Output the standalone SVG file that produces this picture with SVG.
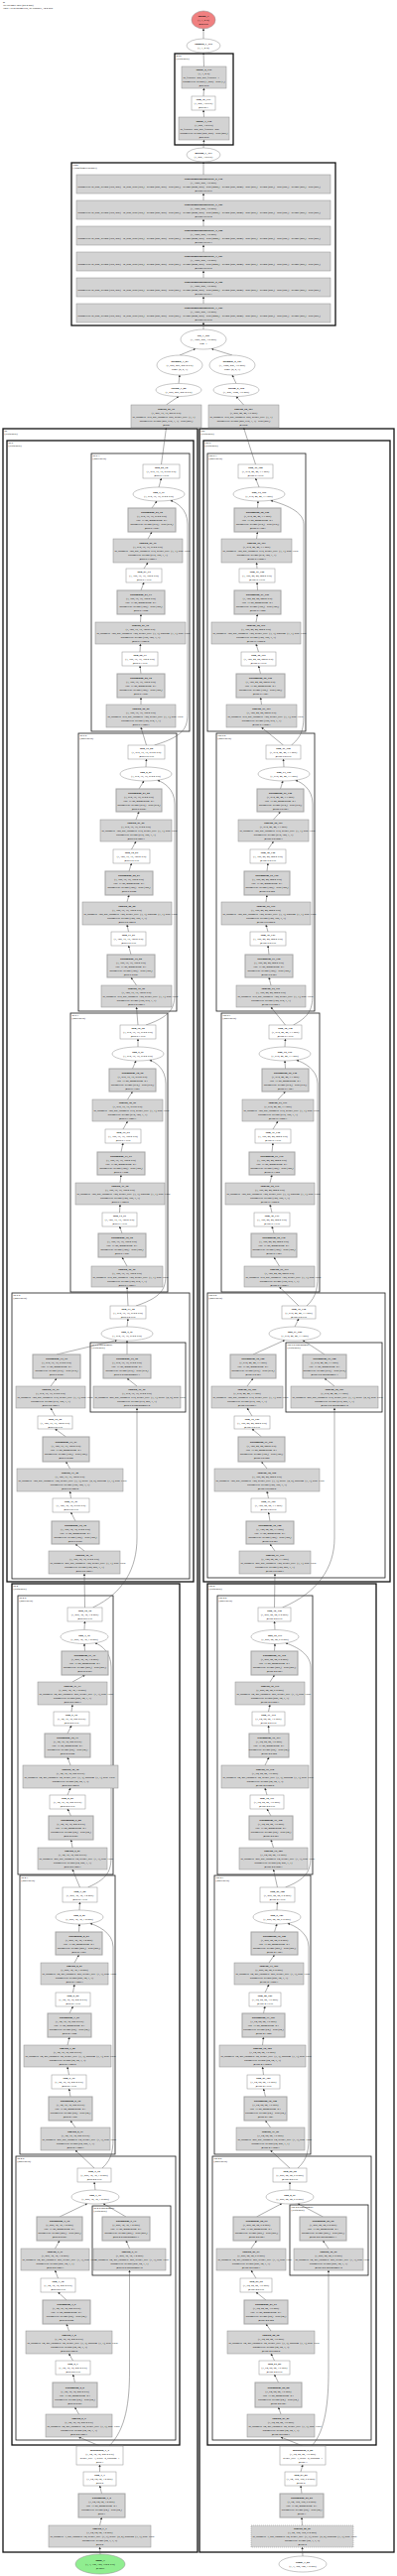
<svg xmlns="http://www.w3.org/2000/svg" width="400" height="2596" viewBox="0 0 400 2596">
<defs>
<marker id="a" viewBox="0 0 10 10" refX="9" refY="5" markerWidth="2.4" markerHeight="2.4" markerUnits="userSpaceOnUse" orient="auto"><path d="M0,0L10,5L0,10z" fill="#333"/></marker>
<style>
text{font-family:"Liberation Serif","Times New Roman",serif;font-size:2.8px;text-anchor:middle;fill:#000}
.b{font-weight:bold}
.s{text-anchor:start}
.cl{text-anchor:start;font-size:2.7px}
.m{fill:#d3d3d3;stroke:#8f8f8f;stroke-width:.5}
.bn{fill:#d3d3d3;stroke:#a3a3a3;stroke-width:1}
.w{fill:#fff;stroke:#8f8f8f;stroke-width:.5}
.c{fill:none;stroke:#1a1a1a;stroke-width:.8}
.c2{fill:none;stroke:#111;stroke-width:1.3}
#edges path{fill:none;stroke:#4d4d4d;stroke-width:.45;marker-end:url(#a)}
</style>
</defs>
<rect width="400" height="2596" fill="#fff"/>
<g id="title"><text class="cl b" x="3" y="3">ft</text><text class="cl" x="3" y="6">1st category total (25.4 MB)</text><text class="cl" x="3" y="9">Total 1.0 M parameters, all trainable, 34.4 MB</text></g>

<g id="clusters">
<rect class="c2" x="176" y="54" width="59" height="92"/><text class="cl" x="177.5" y="57.2">head</text><text class="cl" x="177.5" y="60.2">(Sequential)</text>
<rect class="c2" x="72" y="164" width="266" height="164"/><text class="cl" x="73.5" y="167.2">trans</text><text class="cl" x="73.5" y="170.2">(TransformerEncoder)</text>
<rect class="c2" x="3" y="432" width="196" height="2140"/><text class="cl" x="4.5" y="435.2">bb</text><text class="cl" x="4.5" y="438.2">(Sequential)</text>
<rect class="c2" x="7" y="444" width="188" height="1150"/><text class="cl" x="8.5" y="447.2">bb.5</text><text class="cl" x="8.5" y="450.2">(Sequential)</text>
<rect class="c" x="92" y="457" width="99" height="280"/><text class="cl" x="93.5" y="460.2">bb.5.3</text><text class="cl" x="93.5" y="463.2">(Bottleneck)</text>
<rect class="c" x="79" y="739" width="99" height="280"/><text class="cl" x="80.5" y="742.2">bb.5.2</text><text class="cl" x="80.5" y="745.2">(Bottleneck)</text>
<rect class="c" x="71" y="1021" width="98" height="281"/><text class="cl" x="72.5" y="1024.2">bb.5.1</text><text class="cl" x="72.5" y="1027.2">(Bottleneck)</text>
<rect class="c" x="12" y="1303" width="179" height="288"/><text class="cl" x="13.5" y="1306.2">bb.5.0</text><text class="cl" x="13.5" y="1309.2">(Bottleneck)</text>
<rect class="c" x="91" y="1353" width="96" height="70"/><text class="cl" x="92.5" y="1356.2">bb.5.0.downsample</text><text class="cl" x="92.5" y="1359.2">(Sequential)</text>
<rect class="c2" x="12" y="1596" width="169" height="868"/><text class="cl" x="13.5" y="1599.2">bb.4</text><text class="cl" x="13.5" y="1602.2">(Sequential)</text>
<rect class="c" x="18" y="1608" width="96" height="281"/><text class="cl" x="19.5" y="1611.2">bb.4.2</text><text class="cl" x="19.5" y="1614.2">(Bottleneck)</text>
<rect class="c" x="20" y="1890" width="96" height="281"/><text class="cl" x="21.5" y="1893.2">bb.4.1</text><text class="cl" x="21.5" y="1896.2">(Bottleneck)</text>
<rect class="c" x="16" y="2173" width="161" height="286"/><text class="cl" x="17.5" y="2176.2">bb.4.0</text><text class="cl" x="17.5" y="2179.2">(Bottleneck)</text>
<rect class="c" x="93" y="2223" width="79" height="70"/><text class="cl" x="94.5" y="2226.2">bb.4.0.downsample</text><text class="cl" x="94.5" y="2229.2">(Sequential)</text>
<rect class="c2" x="201" y="432" width="196" height="2140"/><text class="cl" x="202.5" y="435.2">cbb</text><text class="cl" x="202.5" y="438.2">(Sequential)</text>
<rect class="c2" x="205" y="444" width="188" height="1150"/><text class="cl" x="206.5" y="447.2">cbb.5</text><text class="cl" x="206.5" y="450.2">(Sequential)</text>
<rect class="c" x="209" y="457" width="99" height="280"/><text class="cl" x="210.5" y="460.2">cbb.5.3</text><text class="cl" x="210.5" y="463.2">(Bottleneck)</text>
<rect class="c" x="218" y="739" width="99" height="280"/><text class="cl" x="219.5" y="742.2">cbb.5.2</text><text class="cl" x="219.5" y="745.2">(Bottleneck)</text>
<rect class="c" x="223" y="1021" width="99" height="281"/><text class="cl" x="224.5" y="1024.2">cbb.5.1</text><text class="cl" x="224.5" y="1027.2">(Bottleneck)</text>
<rect class="c" x="209" y="1303" width="179" height="287"/><text class="cl" x="210.5" y="1306.2">cbb.5.0</text><text class="cl" x="210.5" y="1309.2">(Bottleneck)</text>
<rect class="c" x="288" y="1353" width="97" height="70"/><text class="cl" x="289.5" y="1356.2">cbb.5.0.downsample</text><text class="cl" x="289.5" y="1359.2">(Sequential)</text>
<rect class="c2" x="209" y="1596" width="170" height="868"/><text class="cl" x="210.5" y="1599.2">cbb.4</text><text class="cl" x="210.5" y="1602.2">(Sequential)</text>
<rect class="c" x="219" y="1608" width="96" height="281"/><text class="cl" x="220.5" y="1611.2">cbb.4.2</text><text class="cl" x="220.5" y="1614.2">(Bottleneck)</text>
<rect class="c" x="216" y="1890" width="97" height="281"/><text class="cl" x="217.5" y="1893.2">cbb.4.1</text><text class="cl" x="217.5" y="1896.2">(Bottleneck)</text>
<rect class="c" x="214" y="2173" width="160" height="286"/><text class="cl" x="215.5" y="2176.2">cbb.4.0</text><text class="cl" x="215.5" y="2179.2">(Bottleneck)</text>
<rect class="c" x="292" y="2222" width="79" height="71"/><text class="cl" x="293.5" y="2225.2">cbb.4.0.downsample</text><text class="cl" x="293.5" y="2228.2">(Sequential)</text>
</g>

<g id="edges">
<path d="M205,39L205,29"/><path d="M205.5,67L205,53"/><path d="M205,97L205.5,89"/><path d="M205.5,118L205,111"/><path d="M205,149L205.5,141"/><path d="M205,176L205,163"/>
<path d="M205,202L205,195"/><path d="M205,228L205,221"/><path d="M205,254L205,247"/><path d="M205,280L205,273"/><path d="M205,306L205,299"/><path d="M205,332L205,325"/>
<path d="M181,358L197,351.4"/><path d="M234,358L213,351.4"/><path d="M180,386.5L181,378"/><path d="M238,386.5L234,378"/><path d="M167.5,408L180,399.5"/><path d="M245.5,408L238,399.5"/><path d="M162.5,468L167.5,431"/><path d="M257.5,468L245.5,431"/>
<path d="M160,491L162.5,482"/><path d="M153,512L158,505"/><path d="M149,543L153,536"/><path d="M145,573L149,567"/><path d="M142,595L145,587"/><path d="M141.5,627L142,619"/><path d="M141,657L141.5,649"/><path d="M142,679L141,671"/><path d="M142,710L142,703"/><path d="M147.5,751L142,733"/>
<path d="M155.5,751C189,741 189,731 189,716L189,528C189,513 177.7,506.3 171.7,504.3"/>
<path d="M147,773L147.5,765"/><path d="M140,795L145,787"/><path d="M137,826L140,818"/><path d="M132.5,856L137,848"/><path d="M130,878L132.5,870"/><path d="M128,909L130,902"/><path d="M129.5,939L128,932"/><path d="M132,962L129.5,953"/><path d="M137.5,993L132,985"/><path d="M139,1033L137.5,1015"/>
<path d="M147,1033C176,1023 176,1013 176,998L176,810C176,795 164.7,788.3 158.7,786.3"/>
<path d="M139,1055L139,1047"/><path d="M133.5,1077L137,1069"/><path d="M128.5,1108L133.5,1100"/><path d="M124,1138L128.5,1130"/><path d="M122,1161L124,1152"/><path d="M121,1192L122,1184"/><path d="M120.5,1222L121,1214"/><path d="M123,1243L120.5,1236"/><path d="M128,1276L123,1267"/><path d="M129,1316L128,1297"/>
<path d="M137,1316C167,1306 167,1296 167,1281L167,1092C167,1077 156.7,1070.3 150.7,1068.3"/>
<path d="M128,1337L129,1329"/><path d="M57,1365L118,1350.5"/><path d="M128,1365L128,1351"/><path d="M138,1397L128,1389"/><path d="M51,1397L57,1389"/><path d="M55.5,1427L51,1419"/><path d="M66.5,1448L55.5,1440"/><path d="M70.5,1480L66.5,1473"/><path d="M71.5,1510L70.5,1503"/><path d="M76,1533L71.5,1524"/><path d="M85,1563L76,1556"/><path d="M85.5,1620L85,1586"/>
<path d="M93.5,1620C125,1605 138,1580 138,1550L138,1419"/>
<path d="M85,1642.5L85.5,1634"/><path d="M85.5,1664L85,1656.5"/><path d="M73,1695L85.5,1688"/><path d="M72,1725L73,1718"/><path d="M68,1747L72,1739"/><path d="M71,1779L68,1771"/><path d="M68,1809L71,1802"/><path d="M71.5,1830L68,1823"/><path d="M73,1862L71.5,1854"/><path d="M80.5,1902L73,1884"/>
<path d="M88.5,1902C112,1892 112,1882 112,1867L112,1680C112,1665 101.8,1657.8 95.8,1655.8"/>
<path d="M80,1925L80.5,1917"/><path d="M79.5,1947L80,1939"/><path d="M75,1978L79.5,1970"/><path d="M73.5,2008L75,2000"/><path d="M70,2029L73.5,2022"/><path d="M68,2061L70,2053"/><path d="M69.5,2091L68,2083"/><path d="M71,2113L69.5,2105"/><path d="M76,2144L71,2137"/><path d="M95,2185L76,2167"/>
<path d="M103,2185C114,2175 114,2165 114,2150L114,1962C114,1947 96.8,1940.3 90.8,1938.3"/>
<path d="M96,2207L95,2199"/><path d="M60,2234L88,2220.6"/><path d="M127,2234L104,2220.6"/><path d="M130.5,2266L127,2258"/><path d="M55.5,2266L60,2258"/><path d="M58.5,2296L55.5,2288"/><path d="M67,2318L58.5,2310"/><path d="M69.5,2349L67,2342"/><path d="M73.5,2379L69.5,2372"/><path d="M75.5,2401L73.5,2393"/><path d="M79.5,2433L75.5,2426"/><path d="M100.5,2465L79.5,2456"/>
<path d="M110,2465C127,2448 130.5,2420 130.5,2390L130.5,2288"/>
<path d="M100.5,2491L100.5,2484"/><path d="M102.5,2513L100.5,2505"/><path d="M100.5,2545L102.5,2537"/><path d="M101,2574L100.5,2567"/>
<path d="M261,491L257.5,482"/><path d="M259.5,512L260,505"/><path d="M258.5,543L259.5,536"/><path d="M259,573L258.5,567"/><path d="M259.5,595L259,587"/><path d="M258,627L259.5,619"/><path d="M260.5,657L258,649"/><path d="M262.5,679L260.5,671"/><path d="M263.5,710L262.5,703"/><path d="M285.5,751L263.5,733"/>
<path d="M293.5,751C306,741 306,731 306,716L306,528C306,513 278.7,506.3 272.7,504.3"/>
<path d="M286,773L285.5,765"/><path d="M282.5,795L285,787"/><path d="M275.5,826L282.5,818"/><path d="M270,856L275.5,848"/><path d="M269,878L270,870"/><path d="M268,909L269,902"/><path d="M270,939L268,932"/><path d="M271,962L270,953"/><path d="M273,993L271,985"/><path d="M287.5,1033L273,1015"/>
<path d="M295.5,1033C315,1023 315,1013 315,998L315,810C315,795 303.7,788.3 297.7,786.3"/>
<path d="M287,1055L287.5,1047"/><path d="M287.5,1077L287,1069"/><path d="M280,1108L287.5,1100"/><path d="M275,1138L280,1130"/><path d="M274,1161L275,1152"/><path d="M272,1192L274,1184"/><path d="M274,1222L272,1214"/><path d="M276,1243L274,1236"/><path d="M281.5,1276L276,1267"/><path d="M301,1316L281.5,1297"/>
<path d="M309,1316C320,1306 320,1296 320,1281L320,1092C320,1077 304.7,1070.3 298.7,1068.3"/>
<path d="M297,1337L301,1329"/><path d="M255,1365L287,1350.5"/><path d="M327,1365L305,1350.5"/><path d="M337,1397L327,1389"/><path d="M249,1397L255,1389"/><path d="M254,1427L249,1419"/><path d="M263.5,1448L254,1440"/><path d="M269,1480L263.5,1473"/><path d="M270.5,1510L269,1503"/><path d="M272,1533L270.5,1524"/><path d="M277,1563L272,1556"/><path d="M276.5,1620L277,1586"/>
<path d="M284.5,1620C320,1605 337,1580 337,1550L337,1419"/>
<path d="M277,1642.5L276.5,1634"/><path d="M276.5,1664L277,1656.5"/><path d="M272,1695L276.5,1688"/><path d="M270.5,1725L272,1718"/><path d="M271,1747L270.5,1739"/><path d="M267,1779L271,1771"/><path d="M269,1809L267,1802"/><path d="M273,1830L269,1823"/><path d="M275.5,1862L273,1854"/><path d="M279.5,1902L275.5,1884"/>
<path d="M287.5,1902C313,1892 313,1882 313,1867L313,1680C313,1665 293.8,1657.8 287.8,1655.8"/>
<path d="M279,1925L279.5,1917"/><path d="M276.5,1947L279,1939"/><path d="M271,1978L276.5,1970"/><path d="M267,2008L271,2000"/><path d="M265.5,2029L267,2022"/><path d="M264.5,2061L265.5,2053"/><path d="M265.5,2091L264.5,2083"/><path d="M267.5,2113L265.5,2105"/><path d="M272.5,2144L267.5,2137"/><path d="M292,2185L272.5,2167"/>
<path d="M300,2185C311,2175 311,2165 311,2150L311,1962C311,1947 295.8,1940.3 289.8,1938.3"/>
<path d="M292,2207L292,2199"/><path d="M258.5,2234L284,2220.6"/><path d="M325.5,2234L300,2220.6"/><path d="M331,2266L325.5,2258"/><path d="M253,2266L258.5,2258"/><path d="M258,2296L253,2288"/><path d="M268,2318L258,2310"/><path d="M273,2349L268,2342"/><path d="M276.5,2379L273,2372"/><path d="M280.5,2401L276.5,2393"/><path d="M283,2433L280.5,2426"/><path d="M305,2465L283,2456"/>
<path d="M314,2465C328,2450 331,2420 331,2390L331,2288"/>
<path d="M303,2491L305,2484"/><path d="M304,2513L303,2505"/><path d="M304.5,2545L304,2537"/><path d="M305,2576L304.5,2567"/>
</g>

<g id="output_1"><ellipse cx="205" cy="20" rx="12" ry="9" fill="#f08080" stroke="#8f8f8f" stroke-width=".5"/><text x="205" y="17.1"><tspan class="b">output_1</tspan><tspan x="205" dy="4">(1, 1, 4 B)</tspan><tspan x="205" dy="4">@output</tspan></text></g>
<g id="sigmoid_1_175"><ellipse class="w" cx="205" cy="46" rx="17" ry="7"/><text x="205" y="45.1"><tspan class="b">sigmoid_1_175</tspan><tspan x="205" dy="4">(1, 1, 4 B)</tspan></text></g>
<g id="linear_2_174"><rect class="m" x="183" y="67" width="45" height="22"/><text x="205.5" y="71"><tspan class="b">linear_2_174</tspan><tspan x="205.5" dy="4">(1, 1, 4 B)</tspan><tspan x="205.5" dy="8">parameters: weight (1, 256) · bias (1,)</tspan><tspan x="205.5" dy="4">@head.2</tspan></text><text class="s" x="184.5" y="79">in_features=256, out_features=1</text></g>
<g id="relu_45_173"><rect class="w" x="193" y="97" width="24" height="14"/><text x="205" y="101"><tspan class="b">relu_45_173</tspan><tspan x="205" dy="4">(1, 256, 1.0 KB)</tspan><tspan x="205" dy="4">@head.1</tspan></text></g>
<g id="linear_1_172"><rect class="m" x="180" y="118" width="51" height="23"/><text x="205.5" y="122.5"><tspan class="b">linear_1_172</tspan><tspan x="205.5" dy="4">(1, 256, 1.0 KB)</tspan><tspan x="205.5" dy="8">parameters: weight (256, 256) · bias (256,)</tspan><tspan x="205.5" dy="4">@head.0</tspan></text><text class="s" x="181.5" y="130.5">in_features=256, out_features=256</text></g>
<g id="getitem_1_171"><ellipse class="w" cx="205" cy="156" rx="17" ry="7"/><text x="205" y="155.1"><tspan class="b">getitem_1_171</tspan><tspan x="205" dy="4">(1, 256, 1.0 KB)</tspan></text></g>

<g id="transformerencoderlayer_6_170"><rect class="m" x="77" y="176" width="256" height="19"/><text x="205" y="180.5"><tspan class="b">transformerencoderlayer_6_170</tspan><tspan x="205" dy="4">(1, 1856, 256, 1.8 MB)</tspan><tspan x="205" dy="8">@trans.layers.5</tspan></text><text class="s" x="78.5" y="188.5">parameters: in_proj_weight (768, 256) · in_proj_bias (768,) · weight (256, 256) · bias (256,) · weight (2048, 256) · bias (2048,) · weight (256, 2048) · bias (256,) · weight (256,) · bias (256,) · weight (256,) · bias (256,)</text></g>
<g id="transformerencoderlayer_5_169"><rect class="m" x="77" y="202" width="256" height="19"/><text x="205" y="206.5"><tspan class="b">transformerencoderlayer_5_169</tspan><tspan x="205" dy="4">(1, 1856, 256, 1.8 MB)</tspan><tspan x="205" dy="8">@trans.layers.4</tspan></text><text class="s" x="78.5" y="214.5">parameters: in_proj_weight (768, 256) · in_proj_bias (768,) · weight (256, 256) · bias (256,) · weight (2048, 256) · bias (2048,) · weight (256, 2048) · bias (256,) · weight (256,) · bias (256,) · weight (256,) · bias (256,)</text></g>
<g id="transformerencoderlayer_4_168"><rect class="m" x="77" y="228" width="256" height="19"/><text x="205" y="232.5"><tspan class="b">transformerencoderlayer_4_168</tspan><tspan x="205" dy="4">(1, 1856, 256, 1.8 MB)</tspan><tspan x="205" dy="8">@trans.layers.3</tspan></text><text class="s" x="78.5" y="240.5">parameters: in_proj_weight (768, 256) · in_proj_bias (768,) · weight (256, 256) · bias (256,) · weight (2048, 256) · bias (2048,) · weight (256, 2048) · bias (256,) · weight (256,) · bias (256,) · weight (256,) · bias (256,)</text></g>
<g id="transformerencoderlayer_3_167"><rect class="m" x="77" y="254" width="256" height="19"/><text x="205" y="258.5"><tspan class="b">transformerencoderlayer_3_167</tspan><tspan x="205" dy="4">(1, 1856, 256, 1.8 MB)</tspan><tspan x="205" dy="8">@trans.layers.2</tspan></text><text class="s" x="78.5" y="266.5">parameters: in_proj_weight (768, 256) · in_proj_bias (768,) · weight (256, 256) · bias (256,) · weight (2048, 256) · bias (2048,) · weight (256, 2048) · bias (256,) · weight (256,) · bias (256,) · weight (256,) · bias (256,)</text></g>
<g id="transformerencoderlayer_2_166"><rect class="m" x="77" y="280" width="256" height="19"/><text x="205" y="284.5"><tspan class="b">transformerencoderlayer_2_166</tspan><tspan x="205" dy="4">(1, 1856, 256, 1.8 MB)</tspan><tspan x="205" dy="8">@trans.layers.1</tspan></text><text class="s" x="78.5" y="292.5">parameters: in_proj_weight (768, 256) · in_proj_bias (768,) · weight (256, 256) · bias (256,) · weight (2048, 256) · bias (2048,) · weight (256, 2048) · bias (256,) · weight (256,) · bias (256,) · weight (256,) · bias (256,)</text></g>
<g id="transformerencoderlayer_1_165"><rect class="m" x="77" y="306" width="256" height="19"/><text x="205" y="310.5"><tspan class="b">transformerencoderlayer_1_165</tspan><tspan x="205" dy="4">(1, 1856, 256, 1.8 MB)</tspan><tspan x="205" dy="8">@trans.layers.0</tspan></text><text class="s" x="78.5" y="318.5">parameters: in_proj_weight (768, 256) · in_proj_bias (768,) · weight (256, 256) · bias (256,) · weight (2048, 256) · bias (2048,) · weight (256, 2048) · bias (256,) · weight (256,) · bias (256,) · weight (256,) · bias (256,)</text></g>

<g id="cat_1_164"><ellipse class="w" cx="205" cy="342" rx="23" ry="10"/><text x="205" y="339.1"><tspan class="b">cat_1_164</tspan><tspan x="205" dy="4">(1, 1856, 256, 1.8 MB)</tspan><tspan x="205" dy="4">dim=1</tspan></text></g>
<g id="permute_1_81"><ellipse class="w" cx="181" cy="368" rx="23" ry="10"/><text x="181" y="365.1"><tspan class="b">permute_1_81</tspan><tspan x="181" dy="4">(1, 256, 256, 256.0 KB)</tspan><tspan x="181" dy="4">dims=(0, 2, 1)</tspan></text></g>
<g id="permute_2_163"><ellipse class="w" cx="234" cy="368" rx="23" ry="10"/><text x="234" y="365.1"><tspan class="b">permute_2_163</tspan><tspan x="234" dy="4">(1, 1600, 256, 1.6 MB)</tspan><tspan x="234" dy="4">dims=(0, 2, 1)</tspan></text></g>
<g id="flatten_1_80"><ellipse class="w" cx="180" cy="393" rx="23" ry="6.5"/><text x="180" y="392.1"><tspan class="b">flatten_1_80</tspan><tspan x="180" dy="4">(1, 256, 256, 256.0 KB)</tspan></text></g>
<g id="flatten_2_162"><ellipse class="w" cx="238" cy="393" rx="23" ry="6.5"/><text x="238" y="392.1"><tspan class="b">flatten_2_162</tspan><tspan x="238" dy="4">(1, 256, 1600, 1.6 MB)</tspan></text></g>
<g id="conv2d_25_79"><rect class="m" x="132" y="408" width="71" height="23"/><text x="167.5" y="412.5"><tspan class="b">conv2d_25_79</tspan><tspan x="167.5" dy="4">(1, 256, 16, 16, 256.0 KB)</tspan><tspan x="167.5" dy="8">parameters: weight (256, 512, 1, 1) · bias (256,)</tspan><tspan x="167.5" dy="4">@proj</tspan></text><text class="s" x="133.5" y="420.5">in_channels=512, out_channels=256, kernel_size=(1, 1)</text></g>
<g id="conv2d_50_161"><rect class="m" x="210" y="408" width="71" height="23"/><text x="245.5" y="412.5"><tspan class="b">conv2d_50_161</tspan><tspan x="245.5" dy="4">(1, 256, 40, 40, 1.6 MB)</tspan><tspan x="245.5" dy="8">parameters: weight (256, 512, 1, 1) · bias (256,)</tspan><tspan x="245.5" dy="4">@cproj</tspan></text><text class="s" x="211.5" y="420.5">in_channels=512, out_channels=256, kernel_size=(1, 1)</text></g>

<!-- LEFT bb.5.3 -->
<g id="relu_22_78"><rect class="w" x="144" y="468" width="37" height="14"/><text x="162.5" y="472"><tspan class="b">relu_22_78</tspan><tspan x="162.5" dy="4">(1, 512, 16, 16, 512.0 KB)</tspan><tspan x="162.5" dy="4">@bb.5.3.relu</tspan></text></g>
<g id="add_7_77"><ellipse class="w" cx="160" cy="498" rx="26" ry="7"/><text x="160" y="497.1"><tspan class="b">add_7_77</tspan><tspan x="160" dy="4">(1, 512, 16, 16, 512.0 KB)</tspan></text></g>
<g id="batchnorm_24_76"><rect class="bn" x="129" y="512" width="48" height="24"/><text x="153" y="517"><tspan class="b">batchnorm_24_76</tspan><tspan x="153" dy="4">(1, 512, 16, 16, 512.0 KB)</tspan><tspan x="153" dy="4">eps=1e-05, momentum=0.1</tspan><tspan x="153" dy="4">parameters: weight (512,) · bias (512,)</tspan><tspan x="153" dy="4">@bb.5.3.bn3</tspan></text></g>
<g id="conv2d_24_75"><rect class="m" x="114" y="543" width="70" height="24"/><text x="149" y="548"><tspan class="b">conv2d_24_75</tspan><tspan x="149" dy="4">(1, 512, 16, 16, 512.0 KB)</tspan><tspan x="149" dy="8">parameters: weight (512, 128, 1, 1)</tspan><tspan x="149" dy="4">@bb.5.3.conv3</tspan></text><text class="s" x="115.5" y="556">in_channels=128, out_channels=512, kernel_size=(1, 1), bias=False</text></g>
<g id="relu_21_74"><rect class="w" x="127" y="573" width="36" height="14"/><text x="145" y="577"><tspan class="b">relu_21_74</tspan><tspan x="145" dy="4">(1, 128, 16, 16, 128.0 KB)</tspan><tspan x="145" dy="4">@bb.5.3.relu</tspan></text></g>
<g id="batchnorm_23_73"><rect class="bn" x="118" y="595" width="48" height="24"/><text x="142" y="600"><tspan class="b">batchnorm_23_73</tspan><tspan x="142" dy="4">(1, 128, 16, 16, 128.0 KB)</tspan><tspan x="142" dy="4">eps=1e-05, momentum=0.1</tspan><tspan x="142" dy="4">parameters: weight (128,) · bias (128,)</tspan><tspan x="142" dy="4">@bb.5.3.bn2</tspan></text></g>
<g id="conv2d_23_72"><rect class="m" x="96" y="627" width="91" height="22"/><text x="141.5" y="631"><tspan class="b">conv2d_23_72</tspan><tspan x="141.5" dy="4">(1, 128, 16, 16, 128.0 KB)</tspan><tspan x="141.5" dy="8">parameters: weight (128, 128, 3, 3)</tspan><tspan x="141.5" dy="4">@bb.5.3.conv2</tspan></text><text class="s" x="97.5" y="639">in_channels=128, out_channels=128, kernel_size=(3, 3), padding=(1, 1), bias=False</text></g>
<g id="relu_20_71"><rect class="w" x="123" y="657" width="36" height="14"/><text x="141" y="661"><tspan class="b">relu_20_71</tspan><tspan x="141" dy="4">(1, 128, 16, 16, 128.0 KB)</tspan><tspan x="141" dy="4">@bb.5.3.relu</tspan></text></g>
<g id="batchnorm_22_70"><rect class="bn" x="118" y="679" width="48" height="24"/><text x="142" y="684"><tspan class="b">batchnorm_22_70</tspan><tspan x="142" dy="4">(1, 128, 16, 16, 128.0 KB)</tspan><tspan x="142" dy="4">eps=1e-05, momentum=0.1</tspan><tspan x="142" dy="4">parameters: weight (128,) · bias (128,)</tspan><tspan x="142" dy="4">@bb.5.3.bn1</tspan></text></g>
<g id="conv2d_22_69"><rect class="m" x="107" y="710" width="70" height="23"/><text x="142" y="714.5"><tspan class="b">conv2d_22_69</tspan><tspan x="142" dy="4">(1, 128, 16, 16, 128.0 KB)</tspan><tspan x="142" dy="8">parameters: weight (128, 512, 1, 1)</tspan><tspan x="142" dy="4">@bb.5.3.conv1</tspan></text><text class="s" x="108.5" y="722.5">in_channels=512, out_channels=128, kernel_size=(1, 1), bias=False</text></g>

<!-- LEFT bb.5.2 -->
<g id="relu_19_68"><rect class="w" x="129" y="751" width="37" height="14"/><text x="147.5" y="755"><tspan class="b">relu_19_68</tspan><tspan x="147.5" dy="4">(1, 512, 16, 16, 512.0 KB)</tspan><tspan x="147.5" dy="4">@bb.5.2.relu</tspan></text></g>
<g id="add_6_67"><ellipse class="w" cx="147" cy="780" rx="26" ry="7"/><text x="147" y="779.1"><tspan class="b">add_6_67</tspan><tspan x="147" dy="4">(1, 512, 16, 16, 512.0 KB)</tspan></text></g>
<g id="batchnorm_21_66"><rect class="bn" x="117" y="795" width="46" height="23"/><text x="140" y="799.5"><tspan class="b">batchnorm_21_66</tspan><tspan x="140" dy="4">(1, 512, 16, 16, 512.0 KB)</tspan><tspan x="140" dy="4">eps=1e-05, momentum=0.1</tspan><tspan x="140" dy="4">parameters: weight (512,) · bias (512,)</tspan><tspan x="140" dy="4">@bb.5.2.bn3</tspan></text></g>
<g id="conv2d_21_65"><rect class="m" x="101" y="826" width="72" height="22"/><text x="137" y="830"><tspan class="b">conv2d_21_65</tspan><tspan x="137" dy="4">(1, 512, 16, 16, 512.0 KB)</tspan><tspan x="137" dy="8">parameters: weight (512, 128, 1, 1)</tspan><tspan x="137" dy="4">@bb.5.2.conv3</tspan></text><text class="s" x="102.5" y="838">in_channels=128, out_channels=512, kernel_size=(1, 1), bias=False</text></g>
<g id="relu_18_64"><rect class="w" x="114" y="856" width="37" height="14"/><text x="132.5" y="860"><tspan class="b">relu_18_64</tspan><tspan x="132.5" dy="4">(1, 128, 16, 16, 128.0 KB)</tspan><tspan x="132.5" dy="4">@bb.5.2.relu</tspan></text></g>
<g id="batchnorm_20_63"><rect class="bn" x="106" y="878" width="48" height="24"/><text x="130" y="883"><tspan class="b">batchnorm_20_63</tspan><tspan x="130" dy="4">(1, 128, 16, 16, 128.0 KB)</tspan><tspan x="130" dy="4">eps=1e-05, momentum=0.1</tspan><tspan x="130" dy="4">parameters: weight (128,) · bias (128,)</tspan><tspan x="130" dy="4">@bb.5.2.bn2</tspan></text></g>
<g id="conv2d_20_62"><rect class="m" x="83" y="909" width="90" height="23"/><text x="128" y="913.5"><tspan class="b">conv2d_20_62</tspan><tspan x="128" dy="4">(1, 128, 16, 16, 128.0 KB)</tspan><tspan x="128" dy="8">parameters: weight (128, 128, 3, 3)</tspan><tspan x="128" dy="4">@bb.5.2.conv2</tspan></text><text class="s" x="84.5" y="921.5">in_channels=128, out_channels=128, kernel_size=(3, 3), padding=(1, 1), bias=False</text></g>
<g id="relu_17_61"><rect class="w" x="112" y="939" width="35" height="14"/><text x="129.5" y="943"><tspan class="b">relu_17_61</tspan><tspan x="129.5" dy="4">(1, 128, 16, 16, 128.0 KB)</tspan><tspan x="129.5" dy="4">@bb.5.2.relu</tspan></text></g>
<g id="batchnorm_19_60"><rect class="bn" x="108" y="962" width="48" height="23"/><text x="132" y="966.5"><tspan class="b">batchnorm_19_60</tspan><tspan x="132" dy="4">(1, 128, 16, 16, 128.0 KB)</tspan><tspan x="132" dy="4">eps=1e-05, momentum=0.1</tspan><tspan x="132" dy="4">parameters: weight (128,) · bias (128,)</tspan><tspan x="132" dy="4">@bb.5.2.bn1</tspan></text></g>
<g id="conv2d_19_59"><rect class="m" x="102" y="993" width="71" height="22"/><text x="137.5" y="997"><tspan class="b">conv2d_19_59</tspan><tspan x="137.5" dy="4">(1, 128, 16, 16, 128.0 KB)</tspan><tspan x="137.5" dy="8">parameters: weight (128, 512, 1, 1)</tspan><tspan x="137.5" dy="4">@bb.5.2.conv1</tspan></text><text class="s" x="103.5" y="1005">in_channels=512, out_channels=128, kernel_size=(1, 1), bias=False</text></g>

<!-- LEFT bb.5.1 -->
<g id="relu_16_58"><rect class="w" x="121" y="1033" width="36" height="14"/><text x="139" y="1037"><tspan class="b">relu_16_58</tspan><tspan x="139" dy="4">(1, 512, 16, 16, 512.0 KB)</tspan><tspan x="139" dy="4">@bb.5.1.relu</tspan></text></g>
<g id="add_5_57"><ellipse class="w" cx="139" cy="1062" rx="26" ry="7"/><text x="139" y="1061.1"><tspan class="b">add_5_57</tspan><tspan x="139" dy="4">(1, 512, 16, 16, 512.0 KB)</tspan></text></g>
<g id="batchnorm_18_56"><rect class="bn" x="110" y="1077" width="47" height="23"/><text x="133.5" y="1081.5"><tspan class="b">batchnorm_18_56</tspan><tspan x="133.5" dy="4">(1, 512, 16, 16, 512.0 KB)</tspan><tspan x="133.5" dy="4">eps=1e-05, momentum=0.1</tspan><tspan x="133.5" dy="4">parameters: weight (512,) · bias (512,)</tspan><tspan x="133.5" dy="4">@bb.5.1.bn3</tspan></text></g>
<g id="conv2d_18_55"><rect class="m" x="93" y="1108" width="71" height="22"/><text x="128.5" y="1112"><tspan class="b">conv2d_18_55</tspan><tspan x="128.5" dy="4">(1, 512, 16, 16, 512.0 KB)</tspan><tspan x="128.5" dy="8">parameters: weight (512, 128, 1, 1)</tspan><tspan x="128.5" dy="4">@bb.5.1.conv3</tspan></text><text class="s" x="94.5" y="1120">in_channels=128, out_channels=512, kernel_size=(1, 1), bias=False</text></g>
<g id="relu_15_54"><rect class="w" x="106" y="1138" width="36" height="14"/><text x="124" y="1142"><tspan class="b">relu_15_54</tspan><tspan x="124" dy="4">(1, 128, 16, 16, 128.0 KB)</tspan><tspan x="124" dy="4">@bb.5.1.relu</tspan></text></g>
<g id="batchnorm_17_53"><rect class="bn" x="98" y="1161" width="48" height="23"/><text x="122" y="1165.5"><tspan class="b">batchnorm_17_53</tspan><tspan x="122" dy="4">(1, 128, 16, 16, 128.0 KB)</tspan><tspan x="122" dy="4">eps=1e-05, momentum=0.1</tspan><tspan x="122" dy="4">parameters: weight (128,) · bias (128,)</tspan><tspan x="122" dy="4">@bb.5.1.bn2</tspan></text></g>
<g id="conv2d_17_52"><rect class="m" x="76" y="1192" width="90" height="22"/><text x="121" y="1196"><tspan class="b">conv2d_17_52</tspan><tspan x="121" dy="4">(1, 128, 16, 16, 128.0 KB)</tspan><tspan x="121" dy="8">parameters: weight (128, 128, 3, 3)</tspan><tspan x="121" dy="4">@bb.5.1.conv2</tspan></text><text class="s" x="77.5" y="1204">in_channels=128, out_channels=128, kernel_size=(3, 3), padding=(1, 1), bias=False</text></g>
<g id="relu_14_51"><rect class="w" x="103" y="1222" width="35" height="14"/><text x="120.5" y="1226"><tspan class="b">relu_14_51</tspan><tspan x="120.5" dy="4">(1, 128, 16, 16, 128.0 KB)</tspan><tspan x="120.5" dy="4">@bb.5.1.relu</tspan></text></g>
<g id="batchnorm_16_50"><rect class="bn" x="99" y="1243" width="48" height="24"/><text x="123" y="1248"><tspan class="b">batchnorm_16_50</tspan><tspan x="123" dy="4">(1, 128, 16, 16, 128.0 KB)</tspan><tspan x="123" dy="4">eps=1e-05, momentum=0.1</tspan><tspan x="123" dy="4">parameters: weight (128,) · bias (128,)</tspan><tspan x="123" dy="4">@bb.5.1.bn1</tspan></text></g>
<g id="conv2d_16_49"><rect class="m" x="92" y="1276" width="72" height="21"/><text x="128" y="1279.5"><tspan class="b">conv2d_16_49</tspan><tspan x="128" dy="4">(1, 128, 16, 16, 128.0 KB)</tspan><tspan x="128" dy="8">parameters: weight (128, 512, 1, 1)</tspan><tspan x="128" dy="4">@bb.5.1.conv1</tspan></text><text class="s" x="93.5" y="1287.5">in_channels=512, out_channels=128, kernel_size=(1, 1), bias=False</text></g>

<!-- LEFT bb.5.0 -->
<g id="relu_13_48"><rect class="w" x="111" y="1316" width="36" height="13"/><text x="129" y="1319.5"><tspan class="b">relu_13_48</tspan><tspan x="129" dy="4">(1, 512, 16, 16, 512.0 KB)</tspan><tspan x="129" dy="4">@bb.5.0.relu</tspan></text></g>
<g id="add_4_47"><ellipse class="w" cx="128" cy="1344" rx="26" ry="7"/><text x="128" y="1343.1"><tspan class="b">add_4_47</tspan><tspan x="128" dy="4">(1, 512, 16, 16, 512.0 KB)</tspan></text></g>
<g id="batchnorm_15_46"><rect class="bn" x="104" y="1365" width="48" height="24"/><text x="128" y="1370"><tspan class="b">batchnorm_15_46</tspan><tspan x="128" dy="4">(1, 512, 16, 16, 512.0 KB)</tspan><tspan x="128" dy="4">eps=1e-05, momentum=0.1</tspan><tspan x="128" dy="4">parameters: weight (512,) · bias (512,)</tspan><tspan x="128" dy="4">@bb.5.0.downsample.1</tspan></text></g>
<g id="conv2d_15_45"><rect class="m" x="94" y="1397" width="88" height="22"/><text x="138" y="1401"><tspan class="b">conv2d_15_45</tspan><tspan x="138" dy="4">(1, 512, 16, 16, 512.0 KB)</tspan><tspan x="138" dy="8">parameters: weight (512, 256, 1, 1)</tspan><tspan x="138" dy="4">@bb.5.0.downsample.0</tspan></text><text class="s" x="95.5" y="1409">in_channels=256, out_channels=512, kernel_size=(1, 1), stride=(2, 2), bias=False</text></g>
<g id="batchnorm_14_44"><rect class="bn" x="33" y="1365" width="48" height="24"/><text x="57" y="1370"><tspan class="b">batchnorm_14_44</tspan><tspan x="57" dy="4">(1, 512, 16, 16, 512.0 KB)</tspan><tspan x="57" dy="4">eps=1e-05, momentum=0.1</tspan><tspan x="57" dy="4">parameters: weight (512,) · bias (512,)</tspan><tspan x="57" dy="4">@bb.5.0.bn3</tspan></text></g>
<g id="conv2d_14_43"><rect class="m" x="16" y="1397" width="70" height="22"/><text x="51" y="1401"><tspan class="b">conv2d_14_43</tspan><tspan x="51" dy="4">(1, 512, 16, 16, 512.0 KB)</tspan><tspan x="51" dy="8">parameters: weight (512, 128, 1, 1)</tspan><tspan x="51" dy="4">@bb.5.0.conv3</tspan></text><text class="s" x="17.5" y="1409">in_channels=128, out_channels=512, kernel_size=(1, 1), bias=False</text></g>
<g id="relu_12_42"><rect class="w" x="38" y="1427" width="35" height="13"/><text x="55.5" y="1430.5"><tspan class="b">relu_12_42</tspan><tspan x="55.5" dy="4">(1, 128, 16, 16, 128.0 KB)</tspan><tspan x="55.5" dy="4">@bb.5.0.relu</tspan></text></g>
<g id="batchnorm_13_41"><rect class="bn" x="43" y="1448" width="47" height="25"/><text x="66.5" y="1453.5"><tspan class="b">batchnorm_13_41</tspan><tspan x="66.5" dy="4">(1, 128, 16, 16, 128.0 KB)</tspan><tspan x="66.5" dy="4">eps=1e-05, momentum=0.1</tspan><tspan x="66.5" dy="4">parameters: weight (128,) · bias (128,)</tspan><tspan x="66.5" dy="4">@bb.5.0.bn2</tspan></text></g>
<g id="conv2d_13_40"><rect class="m" x="17" y="1480" width="107" height="23"/><text x="70.5" y="1484.5"><tspan class="b">conv2d_13_40</tspan><tspan x="70.5" dy="4">(1, 128, 16, 16, 128.0 KB)</tspan><tspan x="70.5" dy="8">parameters: weight (128, 128, 3, 3)</tspan><tspan x="70.5" dy="4">@bb.5.0.conv2</tspan></text><text class="s" x="18.5" y="1492.5">in_channels=128, out_channels=128, kernel_size=(3, 3), stride=(2, 2), padding=(1, 1), bias=False</text></g>
<g id="relu_11_39"><rect class="w" x="53" y="1510" width="37" height="14"/><text x="71.5" y="1514"><tspan class="b">relu_11_39</tspan><tspan x="71.5" dy="4">(1, 128, 32, 32, 512.0 KB)</tspan><tspan x="71.5" dy="4">@bb.5.0.relu</tspan></text></g>
<g id="batchnorm_12_38"><rect class="bn" x="52" y="1533" width="48" height="23"/><text x="76" y="1537.5"><tspan class="b">batchnorm_12_38</tspan><tspan x="76" dy="4">(1, 128, 32, 32, 512.0 KB)</tspan><tspan x="76" dy="4">eps=1e-05, momentum=0.1</tspan><tspan x="76" dy="4">parameters: weight (128,) · bias (128,)</tspan><tspan x="76" dy="4">@bb.5.0.bn1</tspan></text></g>
<g id="conv2d_12_37"><rect class="m" x="49" y="1563" width="72" height="23"/><text x="85" y="1567.5"><tspan class="b">conv2d_12_37</tspan><tspan x="85" dy="4">(1, 128, 32, 32, 512.0 KB)</tspan><tspan x="85" dy="8">parameters: weight (128, 256, 1, 1)</tspan><tspan x="85" dy="4">@bb.5.0.conv1</tspan></text><text class="s" x="50.5" y="1575.5">in_channels=256, out_channels=128, kernel_size=(1, 1), bias=False</text></g>

<!-- LEFT bb.4.2 -->
<g id="relu_10_36"><rect class="w" x="68" y="1620" width="35" height="14"/><text x="85.5" y="1624"><tspan class="b">relu_10_36</tspan><tspan x="85.5" dy="4">(1, 256, 32, 32, 1.0 MB)</tspan><tspan x="85.5" dy="4">@bb.4.2.relu</tspan></text></g>
<g id="add_3_35"><ellipse class="w" cx="85" cy="1649.5" rx="24" ry="7"/><text x="85" y="1648.6"><tspan class="b">add_3_35</tspan><tspan x="85" dy="4">(1, 256, 32, 32, 1.0 MB)</tspan></text></g>
<g id="batchnorm_11_34"><rect class="bn" x="62" y="1664" width="47" height="24"/><text x="85.5" y="1669"><tspan class="b">batchnorm_11_34</tspan><tspan x="85.5" dy="4">(1, 256, 32, 32, 1.0 MB)</tspan><tspan x="85.5" dy="4">eps=1e-05, momentum=0.1</tspan><tspan x="85.5" dy="4">parameters: weight (256,) · bias (256,)</tspan><tspan x="85.5" dy="4">@bb.4.2.bn3</tspan></text></g>
<g id="conv2d_11_33"><rect class="m" x="38" y="1695" width="70" height="23"/><text x="73" y="1699.5"><tspan class="b">conv2d_11_33</tspan><tspan x="73" dy="4">(1, 256, 32, 32, 1.0 MB)</tspan><tspan x="73" dy="8">parameters: weight (256, 64, 1, 1)</tspan><tspan x="73" dy="4">@bb.4.2.conv3</tspan></text><text class="s" x="39.5" y="1707.5">in_channels=64, out_channels=256, kernel_size=(1, 1), bias=False</text></g>
<g id="relu_9_32"><rect class="w" x="54" y="1725" width="36" height="14"/><text x="72" y="1729"><tspan class="b">relu_9_32</tspan><tspan x="72" dy="4">(1, 64, 32, 32, 256.0 KB)</tspan><tspan x="72" dy="4">@bb.4.2.relu</tspan></text></g>
<g id="batchnorm_10_31"><rect class="bn" x="45" y="1747" width="46" height="24"/><text x="68" y="1752"><tspan class="b">batchnorm_10_31</tspan><tspan x="68" dy="4">(1, 64, 32, 32, 256.0 KB)</tspan><tspan x="68" dy="4">eps=1e-05, momentum=0.1</tspan><tspan x="68" dy="4">parameters: weight (64,) · bias (64,)</tspan><tspan x="68" dy="4">@bb.4.2.bn2</tspan></text></g>
<g id="conv2d_10_30"><rect class="m" x="23" y="1779" width="96" height="23"/><text x="71" y="1783.5"><tspan class="b">conv2d_10_30</tspan><tspan x="71" dy="4">(1, 64, 32, 32, 256.0 KB)</tspan><tspan x="71" dy="8">parameters: weight (64, 64, 3, 3)</tspan><tspan x="71" dy="4">@bb.4.2.conv2</tspan></text><text class="s" x="24.5" y="1791.5">in_channels=64, out_channels=64, kernel_size=(3, 3), padding=(1, 1), bias=False</text></g>
<g id="relu_8_29"><rect class="w" x="50" y="1809" width="36" height="14"/><text x="68" y="1813"><tspan class="b">relu_8_29</tspan><tspan x="68" dy="4">(1, 64, 32, 32, 256.0 KB)</tspan><tspan x="68" dy="4">@bb.4.2.relu</tspan></text></g>
<g id="batchnorm_9_28"><rect class="bn" x="49" y="1830" width="45" height="24"/><text x="71.5" y="1835"><tspan class="b">batchnorm_9_28</tspan><tspan x="71.5" dy="4">(1, 64, 32, 32, 256.0 KB)</tspan><tspan x="71.5" dy="4">eps=1e-05, momentum=0.1</tspan><tspan x="71.5" dy="4">parameters: weight (64,) · bias (64,)</tspan><tspan x="71.5" dy="4">@bb.4.2.bn1</tspan></text></g>
<g id="conv2d_9_27"><rect class="m" x="38" y="1862" width="70" height="22"/><text x="73" y="1866"><tspan class="b">conv2d_9_27</tspan><tspan x="73" dy="4">(1, 64, 32, 32, 256.0 KB)</tspan><tspan x="73" dy="8">parameters: weight (64, 256, 1, 1)</tspan><tspan x="73" dy="4">@bb.4.2.conv1</tspan></text><text class="s" x="39.5" y="1874">in_channels=256, out_channels=64, kernel_size=(1, 1), bias=False</text></g>

<!-- LEFT bb.4.1 -->
<g id="relu_7_26"><rect class="w" x="63" y="1902" width="35" height="15"/><text x="80.5" y="1906.5"><tspan class="b">relu_7_26</tspan><tspan x="80.5" dy="4">(1, 256, 32, 32, 1.0 MB)</tspan><tspan x="80.5" dy="4">@bb.4.1.relu</tspan></text></g>
<g id="add_2_25"><ellipse class="w" cx="80" cy="1932" rx="24" ry="7"/><text x="80" y="1931.1"><tspan class="b">add_2_25</tspan><tspan x="80" dy="4">(1, 256, 32, 32, 1.0 MB)</tspan></text></g>
<g id="batchnorm_8_24"><rect class="bn" x="56" y="1947" width="47" height="23"/><text x="79.5" y="1951.5"><tspan class="b">batchnorm_8_24</tspan><tspan x="79.5" dy="4">(1, 256, 32, 32, 1.0 MB)</tspan><tspan x="79.5" dy="4">eps=1e-05, momentum=0.1</tspan><tspan x="79.5" dy="4">parameters: weight (256,) · bias (256,)</tspan><tspan x="79.5" dy="4">@bb.4.1.bn3</tspan></text></g>
<g id="conv2d_8_23"><rect class="m" x="41" y="1978" width="68" height="22"/><text x="75" y="1982"><tspan class="b">conv2d_8_23</tspan><tspan x="75" dy="4">(1, 256, 32, 32, 1.0 MB)</tspan><tspan x="75" dy="8">parameters: weight (256, 64, 1, 1)</tspan><tspan x="75" dy="4">@bb.4.1.conv3</tspan></text><text class="s" x="42.5" y="1990">in_channels=64, out_channels=256, kernel_size=(1, 1), bias=False</text></g>
<g id="relu_6_22"><rect class="w" x="56" y="2008" width="35" height="14"/><text x="73.5" y="2012"><tspan class="b">relu_6_22</tspan><tspan x="73.5" dy="4">(1, 64, 32, 32, 256.0 KB)</tspan><tspan x="73.5" dy="4">@bb.4.1.relu</tspan></text></g>
<g id="batchnorm_7_21"><rect class="bn" x="48" y="2029" width="44" height="24"/><text x="70" y="2034"><tspan class="b">batchnorm_7_21</tspan><tspan x="70" dy="4">(1, 64, 32, 32, 256.0 KB)</tspan><tspan x="70" dy="4">eps=1e-05, momentum=0.1</tspan><tspan x="70" dy="4">parameters: weight (64,) · bias (64,)</tspan><tspan x="70" dy="4">@bb.4.1.bn2</tspan></text></g>
<g id="conv2d_7_20"><rect class="m" x="24" y="2061" width="88" height="22"/><text x="68" y="2065"><tspan class="b">conv2d_7_20</tspan><tspan x="68" dy="4">(1, 64, 32, 32, 256.0 KB)</tspan><tspan x="68" dy="8">parameters: weight (64, 64, 3, 3)</tspan><tspan x="68" dy="4">@bb.4.1.conv2</tspan></text><text class="s" x="25.5" y="2073">in_channels=64, out_channels=64, kernel_size=(3, 3), padding=(1, 1), bias=False</text></g>
<g id="relu_5_19"><rect class="w" x="52" y="2091" width="35" height="14"/><text x="69.5" y="2095"><tspan class="b">relu_5_19</tspan><tspan x="69.5" dy="4">(1, 64, 32, 32, 256.0 KB)</tspan><tspan x="69.5" dy="4">@bb.4.1.relu</tspan></text></g>
<g id="batchnorm_6_18"><rect class="bn" x="49" y="2113" width="44" height="24"/><text x="71" y="2118"><tspan class="b">batchnorm_6_18</tspan><tspan x="71" dy="4">(1, 64, 32, 32, 256.0 KB)</tspan><tspan x="71" dy="4">eps=1e-05, momentum=0.1</tspan><tspan x="71" dy="4">parameters: weight (64,) · bias (64,)</tspan><tspan x="71" dy="4">@bb.4.1.bn1</tspan></text></g>
<g id="conv2d_6_17"><rect class="m" x="41" y="2144" width="70" height="23"/><text x="76" y="2148.5"><tspan class="b">conv2d_6_17</tspan><tspan x="76" dy="4">(1, 64, 32, 32, 256.0 KB)</tspan><tspan x="76" dy="8">parameters: weight (64, 256, 1, 1)</tspan><tspan x="76" dy="4">@bb.4.1.conv1</tspan></text><text class="s" x="42.5" y="2156.5">in_channels=256, out_channels=64, kernel_size=(1, 1), bias=False</text></g>

<!-- LEFT bb.4.0 -->
<g id="relu_4_16"><rect class="w" x="78" y="2185" width="34" height="14"/><text x="95" y="2189"><tspan class="b">relu_4_16</tspan><tspan x="95" dy="4">(1, 256, 32, 32, 1.0 MB)</tspan><tspan x="95" dy="4">@bb.4.0.relu</tspan></text></g>
<g id="add_1_15"><ellipse class="w" cx="96" cy="2214" rx="24" ry="7"/><text x="96" y="2213.1"><tspan class="b">add_1_15</tspan><tspan x="96" dy="4">(1, 256, 32, 32, 1.0 MB)</tspan></text></g>
<g id="batchnorm_5_14"><rect class="bn" x="103" y="2234" width="48" height="24"/><text x="127" y="2239"><tspan class="b">batchnorm_5_14</tspan><tspan x="127" dy="4">(1, 256, 32, 32, 1.0 MB)</tspan><tspan x="127" dy="4">eps=1e-05, momentum=0.1</tspan><tspan x="127" dy="4">parameters: weight (256,) · bias (256,)</tspan><tspan x="127" dy="4">@bb.4.0.downsample.1</tspan></text></g>
<g id="conv2d_5_13"><rect class="m" x="94" y="2266" width="73" height="22"/><text x="130.5" y="2270"><tspan class="b">conv2d_5_13</tspan><tspan x="130.5" dy="4">(1, 256, 32, 32, 1.0 MB)</tspan><tspan x="130.5" dy="8">parameters: weight (256, 64, 1, 1)</tspan><tspan x="130.5" dy="4">@bb.4.0.downsample.0</tspan></text><text class="s" x="95.5" y="2278">in_channels=64, out_channels=256, kernel_size=(1, 1), bias=False</text></g>
<g id="batchnorm_4_12"><rect class="bn" x="37" y="2234" width="46" height="24"/><text x="60" y="2239"><tspan class="b">batchnorm_4_12</tspan><tspan x="60" dy="4">(1, 256, 32, 32, 1.0 MB)</tspan><tspan x="60" dy="4">eps=1e-05, momentum=0.1</tspan><tspan x="60" dy="4">parameters: weight (256,) · bias (256,)</tspan><tspan x="60" dy="4">@bb.4.0.bn3</tspan></text></g>
<g id="conv2d_4_11"><rect class="m" x="21" y="2266" width="69" height="22"/><text x="55.5" y="2270"><tspan class="b">conv2d_4_11</tspan><tspan x="55.5" dy="4">(1, 256, 32, 32, 1.0 MB)</tspan><tspan x="55.5" dy="8">parameters: weight (256, 64, 1, 1)</tspan><tspan x="55.5" dy="4">@bb.4.0.conv3</tspan></text><text class="s" x="22.5" y="2278">in_channels=64, out_channels=256, kernel_size=(1, 1), bias=False</text></g>
<g id="relu_3_10"><rect class="w" x="41" y="2296" width="35" height="14"/><text x="58.5" y="2300"><tspan class="b">relu_3_10</tspan><tspan x="58.5" dy="4">(1, 64, 32, 32, 256.0 KB)</tspan><tspan x="58.5" dy="4">@bb.4.0.relu</tspan></text></g>
<g id="batchnorm_3_9"><rect class="bn" x="43" y="2318" width="48" height="24"/><text x="67" y="2323"><tspan class="b">batchnorm_3_9</tspan><tspan x="67" dy="4">(1, 64, 32, 32, 256.0 KB)</tspan><tspan x="67" dy="4">eps=1e-05, momentum=0.1</tspan><tspan x="67" dy="4">parameters: weight (64,) · bias (64,)</tspan><tspan x="67" dy="4">@bb.4.0.bn2</tspan></text></g>
<g id="conv2d_3_8"><rect class="m" x="26" y="2349" width="87" height="23"/><text x="69.5" y="2353.5"><tspan class="b">conv2d_3_8</tspan><tspan x="69.5" dy="4">(1, 64, 32, 32, 256.0 KB)</tspan><tspan x="69.5" dy="8">parameters: weight (64, 64, 3, 3)</tspan><tspan x="69.5" dy="4">@bb.4.0.conv2</tspan></text><text class="s" x="27.5" y="2361.5">in_channels=64, out_channels=64, kernel_size=(3, 3), padding=(1, 1), bias=False</text></g>
<g id="relu_2_7"><rect class="w" x="56" y="2379" width="35" height="14"/><text x="73.5" y="2383"><tspan class="b">relu_2_7</tspan><tspan x="73.5" dy="4">(1, 64, 32, 32, 256.0 KB)</tspan><tspan x="73.5" dy="4">@bb.4.0.relu</tspan></text></g>
<g id="batchnorm_2_6"><rect class="bn" x="53" y="2401" width="45" height="25"/><text x="75.5" y="2406.5"><tspan class="b">batchnorm_2_6</tspan><tspan x="75.5" dy="4">(1, 64, 32, 32, 256.0 KB)</tspan><tspan x="75.5" dy="4">eps=1e-05, momentum=0.1</tspan><tspan x="75.5" dy="4">parameters: weight (64,) · bias (64,)</tspan><tspan x="75.5" dy="4">@bb.4.0.bn1</tspan></text></g>
<g id="conv2d_2_5"><rect class="m" x="46" y="2433" width="67" height="23"/><text x="79.5" y="2437.5"><tspan class="b">conv2d_2_5</tspan><tspan x="79.5" dy="4">(1, 64, 32, 32, 256.0 KB)</tspan><tspan x="79.5" dy="8">parameters: weight (64, 64, 1, 1)</tspan><tspan x="79.5" dy="4">@bb.4.0.conv1</tspan></text><text class="s" x="47.5" y="2445.5">in_channels=64, out_channels=64, kernel_size=(1, 1), bias=False</text></g>

<!-- LEFT stem -->
<g id="maxpool2d_1_4"><rect class="w" x="77" y="2465" width="47" height="19"/><text x="100.5" y="2469.5"><tspan class="b">maxpool2d_1_4</tspan><tspan x="100.5" dy="4">(1, 64, 32, 32, 256.0 KB)</tspan><tspan x="100.5" dy="4">kernel_size=3, stride=2, padding=1</tspan><tspan x="100.5" dy="4">@bb.3</tspan></text></g>
<g id="relu_1_3"><rect class="w" x="84" y="2491" width="33" height="14"/><text x="100.5" y="2495"><tspan class="b">relu_1_3</tspan><tspan x="100.5" dy="4">(1, 64, 64, 64, 1.0 MB)</tspan><tspan x="100.5" dy="4">@bb.2</tspan></text></g>
<g id="batchnorm_1_2"><rect class="bn" x="79" y="2513" width="47" height="24"/><text x="102.5" y="2518"><tspan class="b">batchnorm_1_2</tspan><tspan x="102.5" dy="4">(1, 64, 64, 64, 1.0 MB)</tspan><tspan x="102.5" dy="4">eps=1e-05, momentum=0.1</tspan><tspan x="102.5" dy="4">parameters: weight (64,) · bias (64,)</tspan><tspan x="102.5" dy="4">@bb.1</tspan></text></g>
<g id="conv2d_1_1"><rect class="m" x="49" y="2545" width="103" height="22"/><text x="100.5" y="2549"><tspan class="b">conv2d_1_1</tspan><tspan x="100.5" dy="4">(1, 64, 64, 64, 1.0 MB)</tspan><tspan x="100.5" dy="8">parameters: weight (64, 3, 7, 7)</tspan><tspan x="100.5" dy="4">@bb.0</tspan></text><text class="s" x="50.5" y="2557">in_channels=3, out_channels=64, kernel_size=(7, 7), stride=(2, 2), padding=(3, 3), bias=False</text></g>
<g id="input_1"><ellipse cx="101" cy="2584" rx="25" ry="10" fill="#90ee90" stroke="#8f8f8f" stroke-width=".5"/><text x="101" y="2581.1"><tspan class="b">input_1</tspan><tspan x="101" dy="4">(1, 3, 128, 128, 192.0 KB)</tspan><tspan x="101" dy="4">@input</tspan></text></g>

<!-- RIGHT cbb.5.3 -->
<g id="relu_44_160"><rect class="w" x="240" y="468" width="35" height="14"/><text x="257.5" y="472"><tspan class="b">relu_44_160</tspan><tspan x="257.5" dy="4">(1, 512, 40, 40, 3.1 MB)</tspan><tspan x="257.5" dy="4">@cbb.5.3.relu</tspan></text></g>
<g id="add_14_159"><ellipse class="w" cx="261" cy="498" rx="26" ry="7"/><text x="261" y="497.1"><tspan class="b">add_14_159</tspan><tspan x="261" dy="4">(1, 512, 40, 40, 3.1 MB)</tspan></text></g>
<g id="batchnorm_48_158"><rect class="bn" x="236" y="512" width="47" height="24"/><text x="259.5" y="517"><tspan class="b">batchnorm_48_158</tspan><tspan x="259.5" dy="4">(1, 512, 40, 40, 3.1 MB)</tspan><tspan x="259.5" dy="4">eps=1e-05, momentum=0.1</tspan><tspan x="259.5" dy="4">parameters: weight (512,) · bias (512,)</tspan><tspan x="259.5" dy="4">@cbb.5.3.bn3</tspan></text></g>
<g id="conv2d_49_157"><rect class="m" x="223" y="543" width="71" height="24"/><text x="258.5" y="548"><tspan class="b">conv2d_49_157</tspan><tspan x="258.5" dy="4">(1, 512, 40, 40, 3.1 MB)</tspan><tspan x="258.5" dy="8">parameters: weight (512, 128, 1, 1)</tspan><tspan x="258.5" dy="4">@cbb.5.3.conv3</tspan></text><text class="s" x="224.5" y="556">in_channels=128, out_channels=512, kernel_size=(1, 1), bias=False</text></g>
<g id="relu_43_156"><rect class="w" x="241" y="573" width="36" height="14"/><text x="259" y="577"><tspan class="b">relu_43_156</tspan><tspan x="259" dy="4">(1, 128, 40, 40, 800.0 KB)</tspan><tspan x="259" dy="4">@cbb.5.3.relu</tspan></text></g>
<g id="batchnorm_47_155"><rect class="bn" x="236" y="595" width="47" height="24"/><text x="259.5" y="600"><tspan class="b">batchnorm_47_155</tspan><tspan x="259.5" dy="4">(1, 128, 40, 40, 800.0 KB)</tspan><tspan x="259.5" dy="4">eps=1e-05, momentum=0.1</tspan><tspan x="259.5" dy="4">parameters: weight (128,) · bias (128,)</tspan><tspan x="259.5" dy="4">@cbb.5.3.bn2</tspan></text></g>
<g id="conv2d_48_154"><rect class="m" x="213" y="627" width="90" height="22"/><text x="258" y="631"><tspan class="b">conv2d_48_154</tspan><tspan x="258" dy="4">(1, 128, 40, 40, 800.0 KB)</tspan><tspan x="258" dy="8">parameters: weight (128, 128, 3, 3)</tspan><tspan x="258" dy="4">@cbb.5.3.conv2</tspan></text><text class="s" x="214.5" y="639">in_channels=128, out_channels=128, kernel_size=(3, 3), padding=(1, 1), bias=False</text></g>
<g id="relu_42_153"><rect class="w" x="243" y="657" width="35" height="14"/><text x="260.5" y="661"><tspan class="b">relu_42_153</tspan><tspan x="260.5" dy="4">(1, 128, 40, 40, 800.0 KB)</tspan><tspan x="260.5" dy="4">@cbb.5.3.relu</tspan></text></g>
<g id="batchnorm_46_152"><rect class="bn" x="238" y="679" width="49" height="24"/><text x="262.5" y="684"><tspan class="b">batchnorm_46_152</tspan><tspan x="262.5" dy="4">(1, 128, 40, 40, 800.0 KB)</tspan><tspan x="262.5" dy="4">eps=1e-05, momentum=0.1</tspan><tspan x="262.5" dy="4">parameters: weight (128,) · bias (128,)</tspan><tspan x="262.5" dy="4">@cbb.5.3.bn1</tspan></text></g>
<g id="conv2d_47_151"><rect class="m" x="228" y="710" width="71" height="23"/><text x="263.5" y="714.5"><tspan class="b">conv2d_47_151</tspan><tspan x="263.5" dy="4">(1, 128, 40, 40, 800.0 KB)</tspan><tspan x="263.5" dy="8">parameters: weight (128, 512, 1, 1)</tspan><tspan x="263.5" dy="4">@cbb.5.3.conv1</tspan></text><text class="s" x="229.5" y="722.5">in_channels=512, out_channels=128, kernel_size=(1, 1), bias=False</text></g>

<!-- RIGHT cbb.5.2 -->
<g id="relu_41_150"><rect class="w" x="268" y="751" width="35" height="14"/><text x="285.5" y="755"><tspan class="b">relu_41_150</tspan><tspan x="285.5" dy="4">(1, 512, 40, 40, 3.1 MB)</tspan><tspan x="285.5" dy="4">@cbb.5.2.relu</tspan></text></g>
<g id="add_13_149"><ellipse class="w" cx="286" cy="780" rx="26" ry="7"/><text x="286" y="779.1"><tspan class="b">add_13_149</tspan><tspan x="286" dy="4">(1, 512, 40, 40, 3.1 MB)</tspan></text></g>
<g id="batchnorm_45_148"><rect class="bn" x="259" y="795" width="47" height="23"/><text x="282.5" y="799.5"><tspan class="b">batchnorm_45_148</tspan><tspan x="282.5" dy="4">(1, 512, 40, 40, 3.1 MB)</tspan><tspan x="282.5" dy="4">eps=1e-05, momentum=0.1</tspan><tspan x="282.5" dy="4">parameters: weight (512,) · bias (512,)</tspan><tspan x="282.5" dy="4">@cbb.5.2.bn3</tspan></text></g>
<g id="conv2d_46_147"><rect class="m" x="240" y="826" width="71" height="22"/><text x="275.5" y="830"><tspan class="b">conv2d_46_147</tspan><tspan x="275.5" dy="4">(1, 512, 40, 40, 3.1 MB)</tspan><tspan x="275.5" dy="8">parameters: weight (512, 128, 1, 1)</tspan><tspan x="275.5" dy="4">@cbb.5.2.conv3</tspan></text><text class="s" x="241.5" y="838">in_channels=128, out_channels=512, kernel_size=(1, 1), bias=False</text></g>
<g id="relu_40_146"><rect class="w" x="252" y="856" width="36" height="14"/><text x="270" y="860"><tspan class="b">relu_40_146</tspan><tspan x="270" dy="4">(1, 128, 40, 40, 800.0 KB)</tspan><tspan x="270" dy="4">@cbb.5.2.relu</tspan></text></g>
<g id="batchnorm_44_145"><rect class="bn" x="246" y="878" width="46" height="24"/><text x="269" y="883"><tspan class="b">batchnorm_44_145</tspan><tspan x="269" dy="4">(1, 128, 40, 40, 800.0 KB)</tspan><tspan x="269" dy="4">eps=1e-05, momentum=0.1</tspan><tspan x="269" dy="4">parameters: weight (128,) · bias (128,)</tspan><tspan x="269" dy="4">@cbb.5.2.bn2</tspan></text></g>
<g id="conv2d_45_144"><rect class="m" x="223" y="909" width="90" height="23"/><text x="268" y="913.5"><tspan class="b">conv2d_45_144</tspan><tspan x="268" dy="4">(1, 128, 40, 40, 800.0 KB)</tspan><tspan x="268" dy="8">parameters: weight (128, 128, 3, 3)</tspan><tspan x="268" dy="4">@cbb.5.2.conv2</tspan></text><text class="s" x="224.5" y="921.5">in_channels=128, out_channels=128, kernel_size=(3, 3), padding=(1, 1), bias=False</text></g>
<g id="relu_39_143"><rect class="w" x="252" y="939" width="36" height="14"/><text x="270" y="943"><tspan class="b">relu_39_143</tspan><tspan x="270" dy="4">(1, 128, 40, 40, 800.0 KB)</tspan><tspan x="270" dy="4">@cbb.5.2.relu</tspan></text></g>
<g id="batchnorm_43_142"><rect class="bn" x="247" y="962" width="48" height="23"/><text x="271" y="966.5"><tspan class="b">batchnorm_43_142</tspan><tspan x="271" dy="4">(1, 128, 40, 40, 800.0 KB)</tspan><tspan x="271" dy="4">eps=1e-05, momentum=0.1</tspan><tspan x="271" dy="4">parameters: weight (128,) · bias (128,)</tspan><tspan x="271" dy="4">@cbb.5.2.bn1</tspan></text></g>
<g id="conv2d_44_141"><rect class="m" x="238" y="993" width="70" height="22"/><text x="273" y="997"><tspan class="b">conv2d_44_141</tspan><tspan x="273" dy="4">(1, 128, 40, 40, 800.0 KB)</tspan><tspan x="273" dy="8">parameters: weight (128, 512, 1, 1)</tspan><tspan x="273" dy="4">@cbb.5.2.conv1</tspan></text><text class="s" x="239.5" y="1005">in_channels=512, out_channels=128, kernel_size=(1, 1), bias=False</text></g>

<!-- RIGHT cbb.5.1 -->
<g id="relu_38_140"><rect class="w" x="271" y="1033" width="33" height="14"/><text x="287.5" y="1037"><tspan class="b">relu_38_140</tspan><tspan x="287.5" dy="4">(1, 512, 40, 40, 3.1 MB)</tspan><tspan x="287.5" dy="4">@cbb.5.1.relu</tspan></text></g>
<g id="add_12_139"><ellipse class="w" cx="287" cy="1062" rx="26" ry="7"/><text x="287" y="1061.1"><tspan class="b">add_12_139</tspan><tspan x="287" dy="4">(1, 512, 40, 40, 3.1 MB)</tspan></text></g>
<g id="batchnorm_42_138"><rect class="bn" x="264" y="1077" width="47" height="23"/><text x="287.5" y="1081.5"><tspan class="b">batchnorm_42_138</tspan><tspan x="287.5" dy="4">(1, 512, 40, 40, 3.1 MB)</tspan><tspan x="287.5" dy="4">eps=1e-05, momentum=0.1</tspan><tspan x="287.5" dy="4">parameters: weight (512,) · bias (512,)</tspan><tspan x="287.5" dy="4">@cbb.5.1.bn3</tspan></text></g>
<g id="conv2d_43_137"><rect class="m" x="244" y="1108" width="72" height="22"/><text x="280" y="1112"><tspan class="b">conv2d_43_137</tspan><tspan x="280" dy="4">(1, 512, 40, 40, 3.1 MB)</tspan><tspan x="280" dy="8">parameters: weight (512, 128, 1, 1)</tspan><tspan x="280" dy="4">@cbb.5.1.conv3</tspan></text><text class="s" x="245.5" y="1120">in_channels=128, out_channels=512, kernel_size=(1, 1), bias=False</text></g>
<g id="relu_37_136"><rect class="w" x="257" y="1138" width="36" height="14"/><text x="275" y="1142"><tspan class="b">relu_37_136</tspan><tspan x="275" dy="4">(1, 128, 40, 40, 800.0 KB)</tspan><tspan x="275" dy="4">@cbb.5.1.relu</tspan></text></g>
<g id="batchnorm_41_135"><rect class="bn" x="251" y="1161" width="46" height="23"/><text x="274" y="1165.5"><tspan class="b">batchnorm_41_135</tspan><tspan x="274" dy="4">(1, 128, 40, 40, 800.0 KB)</tspan><tspan x="274" dy="4">eps=1e-05, momentum=0.1</tspan><tspan x="274" dy="4">parameters: weight (128,) · bias (128,)</tspan><tspan x="274" dy="4">@cbb.5.1.bn2</tspan></text></g>
<g id="conv2d_42_134"><rect class="m" x="227" y="1192" width="90" height="22"/><text x="272" y="1196"><tspan class="b">conv2d_42_134</tspan><tspan x="272" dy="4">(1, 128, 40, 40, 800.0 KB)</tspan><tspan x="272" dy="8">parameters: weight (128, 128, 3, 3)</tspan><tspan x="272" dy="4">@cbb.5.1.conv2</tspan></text><text class="s" x="228.5" y="1204">in_channels=128, out_channels=128, kernel_size=(3, 3), padding=(1, 1), bias=False</text></g>
<g id="relu_36_133"><rect class="w" x="256" y="1222" width="36" height="14"/><text x="274" y="1226"><tspan class="b">relu_36_133</tspan><tspan x="274" dy="4">(1, 128, 40, 40, 800.0 KB)</tspan><tspan x="274" dy="4">@cbb.5.1.relu</tspan></text></g>
<g id="batchnorm_40_132"><rect class="bn" x="253" y="1243" width="46" height="24"/><text x="276" y="1248"><tspan class="b">batchnorm_40_132</tspan><tspan x="276" dy="4">(1, 128, 40, 40, 800.0 KB)</tspan><tspan x="276" dy="4">eps=1e-05, momentum=0.1</tspan><tspan x="276" dy="4">parameters: weight (128,) · bias (128,)</tspan><tspan x="276" dy="4">@cbb.5.1.bn1</tspan></text></g>
<g id="conv2d_41_131"><rect class="m" x="246" y="1276" width="71" height="21"/><text x="281.5" y="1279.5"><tspan class="b">conv2d_41_131</tspan><tspan x="281.5" dy="4">(1, 128, 40, 40, 800.0 KB)</tspan><tspan x="281.5" dy="8">parameters: weight (128, 512, 1, 1)</tspan><tspan x="281.5" dy="4">@cbb.5.1.conv1</tspan></text><text class="s" x="247.5" y="1287.5">in_channels=512, out_channels=128, kernel_size=(1, 1), bias=False</text></g>

<!-- RIGHT cbb.5.0 -->
<g id="relu_35_130"><rect class="w" x="284" y="1316" width="34" height="13"/><text x="301" y="1319.5"><tspan class="b">relu_35_130</tspan><tspan x="301" dy="4">(1, 512, 40, 40, 3.1 MB)</tspan><tspan x="301" dy="4">@cbb.5.0.relu</tspan></text></g>
<g id="add_11_129"><ellipse class="w" cx="297" cy="1344" rx="26" ry="7"/><text x="297" y="1343.1"><tspan class="b">add_11_129</tspan><tspan x="297" dy="4">(1, 512, 40, 40, 3.1 MB)</tspan></text></g>
<g id="batchnorm_39_128"><rect class="bn" x="305" y="1365" width="44" height="24"/><text x="327" y="1370"><tspan class="b">batchnorm_39_128</tspan><tspan x="327" dy="4">(1, 512, 40, 40, 3.1 MB)</tspan><tspan x="327" dy="4">eps=1e-05, momentum=0.1</tspan><tspan x="327" dy="4">parameters: weight (512,) · bias (512,)</tspan><tspan x="327" dy="4">@cbb.5.0.downsample.1</tspan></text></g>
<g id="conv2d_40_127"><rect class="m" x="293" y="1397" width="88" height="22"/><text x="337" y="1401"><tspan class="b">conv2d_40_127</tspan><tspan x="337" dy="4">(1, 512, 40, 40, 3.1 MB)</tspan><tspan x="337" dy="8">parameters: weight (512, 256, 1, 1)</tspan><tspan x="337" dy="4">@cbb.5.0.downsample.0</tspan></text><text class="s" x="294.5" y="1409">in_channels=256, out_channels=512, kernel_size=(1, 1), stride=(2, 2), bias=False</text></g>
<g id="batchnorm_38_126"><rect class="bn" x="232" y="1365" width="46" height="24"/><text x="255" y="1370"><tspan class="b">batchnorm_38_126</tspan><tspan x="255" dy="4">(1, 512, 40, 40, 3.1 MB)</tspan><tspan x="255" dy="4">eps=1e-05, momentum=0.1</tspan><tspan x="255" dy="4">parameters: weight (512,) · bias (512,)</tspan><tspan x="255" dy="4">@cbb.5.0.bn3</tspan></text></g>
<g id="conv2d_39_125"><rect class="m" x="213" y="1397" width="72" height="22"/><text x="249" y="1401"><tspan class="b">conv2d_39_125</tspan><tspan x="249" dy="4">(1, 512, 40, 40, 3.1 MB)</tspan><tspan x="249" dy="8">parameters: weight (512, 128, 1, 1)</tspan><tspan x="249" dy="4">@cbb.5.0.conv3</tspan></text><text class="s" x="214.5" y="1409">in_channels=128, out_channels=512, kernel_size=(1, 1), bias=False</text></g>
<g id="relu_34_124"><rect class="w" x="236" y="1427" width="36" height="13"/><text x="254" y="1430.5"><tspan class="b">relu_34_124</tspan><tspan x="254" dy="4">(1, 128, 40, 40, 800.0 KB)</tspan><tspan x="254" dy="4">@cbb.5.0.relu</tspan></text></g>
<g id="batchnorm_37_123"><rect class="bn" x="240" y="1448" width="47" height="25"/><text x="263.5" y="1453.5"><tspan class="b">batchnorm_37_123</tspan><tspan x="263.5" dy="4">(1, 128, 40, 40, 800.0 KB)</tspan><tspan x="263.5" dy="4">eps=1e-05, momentum=0.1</tspan><tspan x="263.5" dy="4">parameters: weight (128,) · bias (128,)</tspan><tspan x="263.5" dy="4">@cbb.5.0.bn2</tspan></text></g>
<g id="conv2d_38_122"><rect class="m" x="216" y="1480" width="106" height="23"/><text x="269" y="1484.5"><tspan class="b">conv2d_38_122</tspan><tspan x="269" dy="4">(1, 128, 40, 40, 800.0 KB)</tspan><tspan x="269" dy="8">parameters: weight (128, 128, 3, 3)</tspan><tspan x="269" dy="4">@cbb.5.0.conv2</tspan></text><text class="s" x="217.5" y="1492.5">in_channels=128, out_channels=128, kernel_size=(3, 3), stride=(2, 2), padding=(1, 1), bias=False</text></g>
<g id="relu_33_121"><rect class="w" x="253" y="1510" width="35" height="14"/><text x="270.5" y="1514"><tspan class="b">relu_33_121</tspan><tspan x="270.5" dy="4">(1, 128, 80, 80, 3.1 MB)</tspan><tspan x="270.5" dy="4">@cbb.5.0.relu</tspan></text></g>
<g id="batchnorm_36_120"><rect class="bn" x="248" y="1533" width="48" height="23"/><text x="272" y="1537.5"><tspan class="b">batchnorm_36_120</tspan><tspan x="272" dy="4">(1, 128, 80, 80, 3.1 MB)</tspan><tspan x="272" dy="4">eps=1e-05, momentum=0.1</tspan><tspan x="272" dy="4">parameters: weight (128,) · bias (128,)</tspan><tspan x="272" dy="4">@cbb.5.0.bn1</tspan></text></g>
<g id="conv2d_37_119"><rect class="m" x="241" y="1563" width="72" height="23"/><text x="277" y="1567.5"><tspan class="b">conv2d_37_119</tspan><tspan x="277" dy="4">(1, 128, 80, 80, 3.1 MB)</tspan><tspan x="277" dy="8">parameters: weight (128, 256, 1, 1)</tspan><tspan x="277" dy="4">@cbb.5.0.conv1</tspan></text><text class="s" x="242.5" y="1575.5">in_channels=256, out_channels=128, kernel_size=(1, 1), bias=False</text></g>

<!-- RIGHT cbb.4.2 -->
<g id="relu_32_118"><rect class="w" x="260" y="1620" width="33" height="14"/><text x="276.5" y="1624"><tspan class="b">relu_32_118</tspan><tspan x="276.5" dy="4">(1, 256, 80, 80, 6.2 MB)</tspan><tspan x="276.5" dy="4">@cbb.4.2.relu</tspan></text></g>
<g id="add_10_117"><ellipse class="w" cx="277" cy="1649.5" rx="24" ry="7"/><text x="277" y="1648.6"><tspan class="b">add_10_117</tspan><tspan x="277" dy="4">(1, 256, 80, 80, 6.2 MB)</tspan></text></g>
<g id="batchnorm_35_116"><rect class="bn" x="253" y="1664" width="47" height="24"/><text x="276.5" y="1669"><tspan class="b">batchnorm_35_116</tspan><tspan x="276.5" dy="4">(1, 256, 80, 80, 6.2 MB)</tspan><tspan x="276.5" dy="4">eps=1e-05, momentum=0.1</tspan><tspan x="276.5" dy="4">parameters: weight (256,) · bias (256,)</tspan><tspan x="276.5" dy="4">@cbb.4.2.bn3</tspan></text></g>
<g id="conv2d_36_115"><rect class="m" x="237" y="1695" width="70" height="23"/><text x="272" y="1699.5"><tspan class="b">conv2d_36_115</tspan><tspan x="272" dy="4">(1, 256, 80, 80, 6.2 MB)</tspan><tspan x="272" dy="8">parameters: weight (256, 64, 1, 1)</tspan><tspan x="272" dy="4">@cbb.4.2.conv3</tspan></text><text class="s" x="238.5" y="1707.5">in_channels=64, out_channels=256, kernel_size=(1, 1), bias=False</text></g>
<g id="relu_31_114"><rect class="w" x="254" y="1725" width="33" height="14"/><text x="270.5" y="1729"><tspan class="b">relu_31_114</tspan><tspan x="270.5" dy="4">(1, 64, 80, 80, 1.6 MB)</tspan><tspan x="270.5" dy="4">@cbb.4.2.relu</tspan></text></g>
<g id="batchnorm_34_113"><rect class="bn" x="251" y="1747" width="40" height="24"/><text x="271" y="1752"><tspan class="b">batchnorm_34_113</tspan><tspan x="271" dy="4">(1, 64, 80, 80, 1.6 MB)</tspan><tspan x="271" dy="4">eps=1e-05, momentum=0.1</tspan><tspan x="271" dy="4">parameters: weight (64,) · bias (64,)</tspan><tspan x="271" dy="4">@cbb.4.2.bn2</tspan></text></g>
<g id="conv2d_35_112"><rect class="m" x="223" y="1779" width="88" height="23"/><text x="267" y="1783.5"><tspan class="b">conv2d_35_112</tspan><tspan x="267" dy="4">(1, 64, 80, 80, 1.6 MB)</tspan><tspan x="267" dy="8">parameters: weight (64, 64, 3, 3)</tspan><tspan x="267" dy="4">@cbb.4.2.conv2</tspan></text><text class="s" x="224.5" y="1791.5">in_channels=64, out_channels=64, kernel_size=(3, 3), padding=(1, 1), bias=False</text></g>
<g id="relu_30_111"><rect class="w" x="252" y="1809" width="34" height="14"/><text x="269" y="1813"><tspan class="b">relu_30_111</tspan><tspan x="269" dy="4">(1, 64, 80, 80, 1.6 MB)</tspan><tspan x="269" dy="4">@cbb.4.2.relu</tspan></text></g>
<g id="batchnorm_33_110"><rect class="bn" x="251" y="1830" width="44" height="24"/><text x="273" y="1835"><tspan class="b">batchnorm_33_110</tspan><tspan x="273" dy="4">(1, 64, 80, 80, 1.6 MB)</tspan><tspan x="273" dy="4">eps=1e-05, momentum=0.1</tspan><tspan x="273" dy="4">parameters: weight (64,) · bias (64,)</tspan><tspan x="273" dy="4">@cbb.4.2.bn1</tspan></text></g>
<g id="conv2d_34_109"><rect class="m" x="241" y="1862" width="69" height="22"/><text x="275.5" y="1866"><tspan class="b">conv2d_34_109</tspan><tspan x="275.5" dy="4">(1, 64, 80, 80, 1.6 MB)</tspan><tspan x="275.5" dy="8">parameters: weight (64, 256, 1, 1)</tspan><tspan x="275.5" dy="4">@cbb.4.2.conv1</tspan></text><text class="s" x="242.5" y="1874">in_channels=256, out_channels=64, kernel_size=(1, 1), bias=False</text></g>

<!-- RIGHT cbb.4.1 -->
<g id="relu_29_108"><rect class="w" x="262" y="1902" width="35" height="15"/><text x="279.5" y="1906.5"><tspan class="b">relu_29_108</tspan><tspan x="279.5" dy="4">(1, 256, 80, 80, 6.2 MB)</tspan><tspan x="279.5" dy="4">@cbb.4.1.relu</tspan></text></g>
<g id="add_9_107"><ellipse class="w" cx="279" cy="1932" rx="24" ry="7"/><text x="279" y="1931.1"><tspan class="b">add_9_107</tspan><tspan x="279" dy="4">(1, 256, 80, 80, 6.2 MB)</tspan></text></g>
<g id="batchnorm_32_106"><rect class="bn" x="253" y="1947" width="47" height="23"/><text x="276.5" y="1951.5"><tspan class="b">batchnorm_32_106</tspan><tspan x="276.5" dy="4">(1, 256, 80, 80, 6.2 MB)</tspan><tspan x="276.5" dy="4">eps=1e-05, momentum=0.1</tspan><tspan x="276.5" dy="4">parameters: weight (256,) · bias (256,)</tspan><tspan x="276.5" dy="4">@cbb.4.1.bn3</tspan></text></g>
<g id="conv2d_33_105"><rect class="m" x="236" y="1978" width="70" height="22"/><text x="271" y="1982"><tspan class="b">conv2d_33_105</tspan><tspan x="271" dy="4">(1, 256, 80, 80, 6.2 MB)</tspan><tspan x="271" dy="8">parameters: weight (256, 64, 1, 1)</tspan><tspan x="271" dy="4">@cbb.4.1.conv3</tspan></text><text class="s" x="237.5" y="1990">in_channels=64, out_channels=256, kernel_size=(1, 1), bias=False</text></g>
<g id="relu_28_104"><rect class="w" x="251" y="2008" width="32" height="14"/><text x="267" y="2012"><tspan class="b">relu_28_104</tspan><tspan x="267" dy="4">(1, 64, 80, 80, 1.6 MB)</tspan><tspan x="267" dy="4">@cbb.4.1.relu</tspan></text></g>
<g id="batchnorm_31_103"><rect class="bn" x="244" y="2029" width="43" height="24"/><text x="265.5" y="2034"><tspan class="b">batchnorm_31_103</tspan><tspan x="265.5" dy="4">(1, 64, 80, 80, 1.6 MB)</tspan><tspan x="265.5" dy="4">eps=1e-05, momentum=0.1</tspan><tspan x="265.5" dy="4">parameters: weight (64,) · bias (64,)</tspan><tspan x="265.5" dy="4">@cbb.4.1.bn2</tspan></text></g>
<g id="conv2d_32_102"><rect class="m" x="221" y="2061" width="87" height="22"/><text x="264.5" y="2065"><tspan class="b">conv2d_32_102</tspan><tspan x="264.5" dy="4">(1, 64, 80, 80, 1.6 MB)</tspan><tspan x="264.5" dy="8">parameters: weight (64, 64, 3, 3)</tspan><tspan x="264.5" dy="4">@cbb.4.1.conv2</tspan></text><text class="s" x="222.5" y="2073">in_channels=64, out_channels=64, kernel_size=(3, 3), padding=(1, 1), bias=False</text></g>
<g id="relu_27_101"><rect class="w" x="249" y="2091" width="33" height="14"/><text x="265.5" y="2095"><tspan class="b">relu_27_101</tspan><tspan x="265.5" dy="4">(1, 64, 80, 80, 1.6 MB)</tspan><tspan x="265.5" dy="4">@cbb.4.1.relu</tspan></text></g>
<g id="batchnorm_30_100"><rect class="bn" x="246" y="2113" width="43" height="24"/><text x="267.5" y="2118"><tspan class="b">batchnorm_30_100</tspan><tspan x="267.5" dy="4">(1, 64, 80, 80, 1.6 MB)</tspan><tspan x="267.5" dy="4">eps=1e-05, momentum=0.1</tspan><tspan x="267.5" dy="4">parameters: weight (64,) · bias (64,)</tspan><tspan x="267.5" dy="4">@cbb.4.1.bn1</tspan></text></g>
<g id="conv2d_31_99"><rect class="m" x="238" y="2144" width="69" height="23"/><text x="272.5" y="2148.5"><tspan class="b">conv2d_31_99</tspan><tspan x="272.5" dy="4">(1, 64, 80, 80, 1.6 MB)</tspan><tspan x="272.5" dy="8">parameters: weight (64, 256, 1, 1)</tspan><tspan x="272.5" dy="4">@cbb.4.1.conv1</tspan></text><text class="s" x="239.5" y="2156.5">in_channels=256, out_channels=64, kernel_size=(1, 1), bias=False</text></g>

<!-- RIGHT cbb.4.0 -->
<g id="relu_26_98"><rect class="w" x="275" y="2185" width="34" height="14"/><text x="292" y="2189"><tspan class="b">relu_26_98</tspan><tspan x="292" dy="4">(1, 256, 80, 80, 6.2 MB)</tspan><tspan x="292" dy="4">@cbb.4.0.relu</tspan></text></g>
<g id="add_8_97"><ellipse class="w" cx="292" cy="2214" rx="24" ry="7"/><text x="292" y="2213.1"><tspan class="b">add_8_97</tspan><tspan x="292" dy="4">(1, 256, 80, 80, 6.2 MB)</tspan></text></g>
<g id="batchnorm_29_96"><rect class="bn" x="302" y="2234" width="47" height="24"/><text x="325.5" y="2239"><tspan class="b">batchnorm_29_96</tspan><tspan x="325.5" dy="4">(1, 256, 80, 80, 6.2 MB)</tspan><tspan x="325.5" dy="4">eps=1e-05, momentum=0.1</tspan><tspan x="325.5" dy="4">parameters: weight (256,) · bias (256,)</tspan><tspan x="325.5" dy="4">@cbb.4.0.downsample.1</tspan></text></g>
<g id="conv2d_30_95"><rect class="m" x="296" y="2266" width="70" height="22"/><text x="331" y="2270"><tspan class="b">conv2d_30_95</tspan><tspan x="331" dy="4">(1, 256, 80, 80, 6.2 MB)</tspan><tspan x="331" dy="8">parameters: weight (256, 64, 1, 1)</tspan><tspan x="331" dy="4">@cbb.4.0.downsample.0</tspan></text><text class="s" x="297.5" y="2278">in_channels=64, out_channels=256, kernel_size=(1, 1), bias=False</text></g>
<g id="batchnorm_28_94"><rect class="bn" x="235" y="2234" width="47" height="24"/><text x="258.5" y="2239"><tspan class="b">batchnorm_28_94</tspan><tspan x="258.5" dy="4">(1, 256, 80, 80, 6.2 MB)</tspan><tspan x="258.5" dy="4">eps=1e-05, momentum=0.1</tspan><tspan x="258.5" dy="4">parameters: weight (256,) · bias (256,)</tspan><tspan x="258.5" dy="4">@cbb.4.0.bn3</tspan></text></g>
<g id="conv2d_29_93"><rect class="m" x="218" y="2266" width="70" height="22"/><text x="253" y="2270"><tspan class="b">conv2d_29_93</tspan><tspan x="253" dy="4">(1, 256, 80, 80, 6.2 MB)</tspan><tspan x="253" dy="8">parameters: weight (256, 64, 1, 1)</tspan><tspan x="253" dy="4">@cbb.4.0.conv3</tspan></text><text class="s" x="219.5" y="2278">in_channels=64, out_channels=256, kernel_size=(1, 1), bias=False</text></g>
<g id="relu_25_92"><rect class="w" x="242" y="2296" width="32" height="14"/><text x="258" y="2300"><tspan class="b">relu_25_92</tspan><tspan x="258" dy="4">(1, 64, 80, 80, 1.6 MB)</tspan><tspan x="258" dy="4">@cbb.4.0.relu</tspan></text></g>
<g id="batchnorm_27_91"><rect class="bn" x="246" y="2318" width="44" height="24"/><text x="268" y="2323"><tspan class="b">batchnorm_27_91</tspan><tspan x="268" dy="4">(1, 64, 80, 80, 1.6 MB)</tspan><tspan x="268" dy="4">eps=1e-05, momentum=0.1</tspan><tspan x="268" dy="4">parameters: weight (64,) · bias (64,)</tspan><tspan x="268" dy="4">@cbb.4.0.bn2</tspan></text></g>
<g id="conv2d_28_90"><rect class="m" x="229" y="2349" width="88" height="23"/><text x="273" y="2353.5"><tspan class="b">conv2d_28_90</tspan><tspan x="273" dy="4">(1, 64, 80, 80, 1.6 MB)</tspan><tspan x="273" dy="8">parameters: weight (64, 64, 3, 3)</tspan><tspan x="273" dy="4">@cbb.4.0.conv2</tspan></text><text class="s" x="230.5" y="2361.5">in_channels=64, out_channels=64, kernel_size=(3, 3), padding=(1, 1), bias=False</text></g>
<g id="relu_24_89"><rect class="w" x="261" y="2379" width="31" height="14"/><text x="276.5" y="2383"><tspan class="b">relu_24_89</tspan><tspan x="276.5" dy="4">(1, 64, 80, 80, 1.6 MB)</tspan><tspan x="276.5" dy="4">@cbb.4.0.relu</tspan></text></g>
<g id="batchnorm_26_88"><rect class="bn" x="257" y="2401" width="47" height="25"/><text x="280.5" y="2406.5"><tspan class="b">batchnorm_26_88</tspan><tspan x="280.5" dy="4">(1, 64, 80, 80, 1.6 MB)</tspan><tspan x="280.5" dy="4">eps=1e-05, momentum=0.1</tspan><tspan x="280.5" dy="4">parameters: weight (64,) · bias (64,)</tspan><tspan x="280.5" dy="4">@cbb.4.0.bn1</tspan></text></g>
<g id="conv2d_27_87"><rect class="m" x="249" y="2433" width="68" height="23"/><text x="283" y="2437.5"><tspan class="b">conv2d_27_87</tspan><tspan x="283" dy="4">(1, 64, 80, 80, 1.6 MB)</tspan><tspan x="283" dy="8">parameters: weight (64, 64, 1, 1)</tspan><tspan x="283" dy="4">@cbb.4.0.conv1</tspan></text><text class="s" x="250.5" y="2445.5">in_channels=64, out_channels=64, kernel_size=(1, 1), bias=False</text></g>

<!-- RIGHT stem -->
<g id="maxpool2d_2_86"><rect class="w" x="282" y="2465" width="46" height="19"/><text x="305" y="2469.5"><tspan class="b">maxpool2d_2_86</tspan><tspan x="305" dy="4">(1, 64, 80, 80, 1.6 MB)</tspan><tspan x="305" dy="4">kernel_size=3, stride=2, padding=1</tspan><tspan x="305" dy="4">@cbb.3</tspan></text></g>
<g id="relu_23_85"><rect class="w" x="287" y="2491" width="32" height="14"/><text x="303" y="2495"><tspan class="b">relu_23_85</tspan><tspan x="303" dy="4">(1, 64, 160, 160, 6.2 MB)</tspan><tspan x="303" dy="4">@cbb.2</tspan></text></g>
<g id="batchnorm_25_84"><rect class="bn" x="282" y="2513" width="44" height="24"/><text x="304" y="2518"><tspan class="b">batchnorm_25_84</tspan><tspan x="304" dy="4">(1, 64, 160, 160, 6.2 MB)</tspan><tspan x="304" dy="4">eps=1e-05, momentum=0.1</tspan><tspan x="304" dy="4">parameters: weight (64,) · bias (64,)</tspan><tspan x="304" dy="4">@cbb.1</tspan></text></g>
<g id="conv2d_26_83"><rect class="m" x="253" y="2545" width="103" height="22" style="stroke-dasharray:1.2 .8"/><text x="304.5" y="2549"><tspan class="b">conv2d_26_83</tspan><tspan x="304.5" dy="4">(1, 64, 160, 160, 6.2 MB)</tspan><tspan x="304.5" dy="8">parameters: weight (64, 3, 7, 7)</tspan><tspan x="304.5" dy="4">@cbb.0</tspan></text><text class="s" x="254.5" y="2557">in_channels=3, out_channels=64, kernel_size=(7, 7), stride=(2, 2), padding=(3, 3), bias=False</text></g>
<g id="cands_1_82"><ellipse class="w" cx="305" cy="2584" rx="24" ry="8"/><text x="305" y="2583.1"><tspan class="b">cands_1_82</tspan><tspan x="305" dy="4">(1, 3, 320, 320, 1.2 MB)</tspan></text></g>
</svg>
